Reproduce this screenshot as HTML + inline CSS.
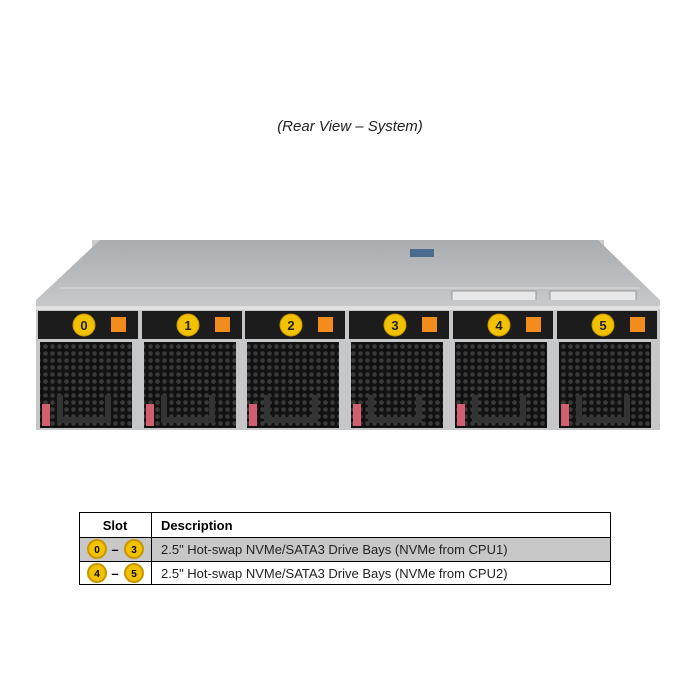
<!DOCTYPE html>
<html><head><style>
body{margin:0;background:#fff;width:700px;height:700px;position:relative;font-family:"Liberation Sans",sans-serif;}
.t{position:absolute;top:118px;left:0;width:700px;text-align:center;font-style:italic;font-size:15px;color:#222;}
</style></head><body>
<div class="t">(Rear View – System)</div>
<svg width="700" height="700" style="position:absolute;left:0;top:0">
<defs>
<linearGradient id="top" x1="0" y1="0" x2="0" y2="1"><stop offset="0" stop-color="#a9acaf"/><stop offset="1" stop-color="#c4c6c8"/></linearGradient>
<pattern id="hex" width="7" height="7" patternUnits="userSpaceOnUse"><rect width="7" height="7" fill="#111"/><circle cx="3.5" cy="3.5" r="2.3" fill="#3a3a3a"/></pattern>
</defs>
<rect x="92" y="240" width="12" height="14" fill="#ccc"/>
<rect x="590" y="240" width="14" height="14" fill="#ccc"/>
<polygon points="100,240 598,240 660,300 36,300" fill="url(#top)"/>
<line x1="60" y1="288" x2="640" y2="288" stroke="#ddd" stroke-width="1"/>
<rect x="410" y="249" width="24" height="8" fill="#4a6a90"/>
<rect x="452" y="291" width="84" height="12" fill="#e8e8e8" stroke="#999"/>
<rect x="550" y="291" width="86" height="12" fill="#e8e8e8" stroke="#999"/>
<rect x="36" y="300" width="624" height="130" fill="#c5c7c9"/>
<rect x="36" y="306" width="624" height="4" fill="#e0e0e0"/>
<g id="mods"></g>
</svg>
<script>
var g=document.getElementById('mods'),s='';
var xs=[36,140,243,347,451,555];
for(var i=0;i<6;i++){var x=xs[i];
s+='<rect x="'+(x+2)+'" y="311" width="100" height="28" fill="#1c1c1c"/>';
s+='<circle cx="'+(x+48)+'" cy="325" r="11" fill="#f2c200" stroke="#c89600"/>';
s+='<text x="'+(x+48)+'" y="330" font-family="Liberation Sans" font-weight="bold" font-size="13" text-anchor="middle" fill="#222">'+i+'</text>';
s+='<rect x="'+(x+75)+'" y="317" width="15" height="15" fill="#f28c1c"/>';
s+='<rect x="'+(x+4)+'" y="342" width="92" height="86" fill="url(#hex)"/>';
s+='<path d="M'+(x+24)+' 395 v25 h48 v-25" stroke="#333" stroke-width="6" fill="none"/>';
s+='<rect x="'+(x+6)+'" y="404" width="8" height="22" fill="#d06070"/>';
}
g.innerHTML=s;
</script>
<svg width="700" height="700" style="position:absolute;left:0;top:0;font-family:'Liberation Sans',sans-serif">
<rect x="79.5" y="512.5" width="531" height="72" fill="#fff" stroke="#000"/>
<rect x="80" y="538" width="530" height="23" fill="#c8c8c8"/>
<line x1="79" y1="537.5" x2="611" y2="537.5" stroke="#000"/>
<line x1="79" y1="561.5" x2="611" y2="561.5" stroke="#000"/>
<line x1="151.5" y1="512" x2="151.5" y2="585" stroke="#000"/>
<text x="115" y="530" font-size="13" font-weight="bold" text-anchor="middle">Slot</text>
<text x="161" y="530" font-size="13" font-weight="bold">Description</text>
<text x="161" y="554" font-size="13" fill="#222">2.5" Hot-swap NVMe/SATA3 Drive Bays (NVMe from CPU1)</text>
<text x="161" y="578" font-size="13" fill="#222">2.5" Hot-swap NVMe/SATA3 Drive Bays (NVMe from CPU2)</text>
<g font-size="10" font-weight="bold" text-anchor="middle">
<circle cx="97" cy="549" r="9" fill="#f2c200" stroke="#c89600" stroke-width="2"/><text x="97" y="553">0</text>
<text x="115" y="554" font-size="13">–</text>
<circle cx="134" cy="549" r="9" fill="#f2c200" stroke="#c89600" stroke-width="2"/><text x="134" y="553">3</text>
<circle cx="97" cy="573" r="9" fill="#f2c200" stroke="#c89600" stroke-width="2"/><text x="97" y="577">4</text>
<text x="115" y="578" font-size="13">–</text>
<circle cx="134" cy="573" r="9" fill="#f2c200" stroke="#c89600" stroke-width="2"/><text x="134" y="577">5</text>
</g>
</svg>
</body></html>
